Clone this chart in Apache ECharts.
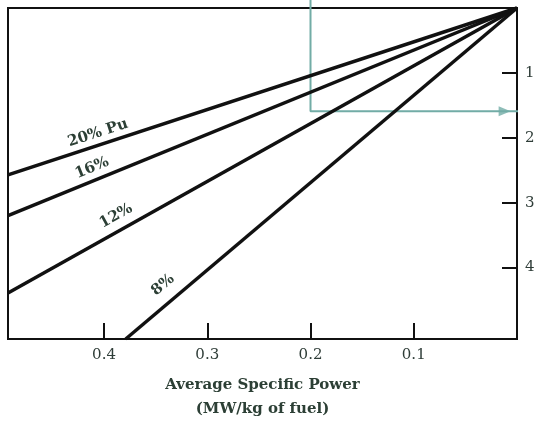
<!DOCTYPE html>
<html><head><meta charset="utf-8">
<script src="https://cdn.jsdelivr.net/npm/echarts@6/dist/echarts.min.js"></script>
<style>html,body{margin:0;padding:0;background:#fff}#c{width:549px;height:422px}</style>
</head><body><div id="c"></div>
<script>
// Data (x = average specific power MW/kg, y = right-axis value)
const pu20 = [[0, 0], [0.493, 2.57]];
const pu16 = [[0, 0], [0.493, 3.20]];
const pu12 = [[0, 0], [0.493, 4.39]];
const pu8  = [[0, 0], [0.379, 5.1]];
const lineLabels = ['20% Pu', '16%', '12%', '8%'];
const xTicks = [0.1, 0.2, 0.3, 0.4];
const yTicks = [1, 2, 3, 4];
const guideLine = [[0.2, -0.13], [0.2, 1.59], [-0.031, 1.59]];
const arrowPoint = [[0.012, 1.59]];
const xName = 'Average Specific Power\n(MW/kg of fuel)';

const ink = '#111';
const teal = '#72aca6';
const textCol = '#2c3f35';
const serif = 'DejaVu Serif';

const chart = echarts.init(document.getElementById('c'));
const lineStyle = { color: ink, width: 3.5 };
function mk(data) {
  return { type: 'line', data: data, symbol: 'none', lineStyle: lineStyle, silent: true, animation: false, z: 3 };
}
// label placement (pixel centres and rotation) – styling only
const labelPos = [[98, 133, 18], [92, 168, 22], [116, 216, 29], [163, 285, 40]];

chart.setOption({
  animation: false,
  grid: { left: 8, right: 32, top: 8, bottom: 83, show: true, borderColor: ink, borderWidth: 2, containLabel: false, outerBoundsMode: 'none' },
  xAxis: {
    type: 'value', position: 'bottom', min: 0, max: 0.493, interval: 0.1, inverse: true,
    axisLine: { show: true, onZero: false, lineStyle: { color: ink, width: 2 } },
    axisTick: { show: true, inside: true, length: 16, lineStyle: { color: ink, width: 2 } },
    axisLabel: { formatter: v => (xTicks.some(t => Math.abs(t - v) < 1e-9) ? v.toFixed(1) : ''), color: '#2f3d38', fontFamily: serif, fontSize: 15, margin: 9 },
    splitLine: { show: false },
    name: xName, nameLocation: 'middle', nameGap: 34,
    nameTextStyle: { color: textCol, fontFamily: serif, fontSize: 15, fontWeight: 'bold', lineHeight: 24 }
  },
  yAxis: {
    type: 'value', min: 0, max: 5.1, inverse: true, position: 'right',
    axisLine: { show: true, onZero: false, lineStyle: { color: ink, width: 2 } },
    axisTick: { show: true, inside: true, length: 15, customValues: yTicks, lineStyle: { color: ink, width: 2 } },
    axisLabel: { customValues: yTicks, color: '#2f3d38', fontFamily: serif, fontSize: 15, margin: 8 },
    splitLine: { show: false }
  },
  series: [
    mk(pu20), mk(pu16), mk(pu12), mk(pu8),
    { type: 'line', data: guideLine, symbol: 'none', clip: false, lineStyle: { color: teal, width: 2 }, z: 2 },
    { type: 'scatter', data: arrowPoint, symbol: 'triangle', symbolRotate: -90, symbolSize: [10, 12], itemStyle: { color: teal }, clip: false, z: 2 }
  ],
  graphic: lineLabels.map((t, i) => ({
    type: 'text', x: labelPos[i][0], y: labelPos[i][1], rotation: labelPos[i][2] * Math.PI / 180,
    style: { text: t, fill: textCol, font: 'bold 15px "' + serif + '"', align: 'center', verticalAlign: 'middle' }
  }))
});
</script></body></html>
